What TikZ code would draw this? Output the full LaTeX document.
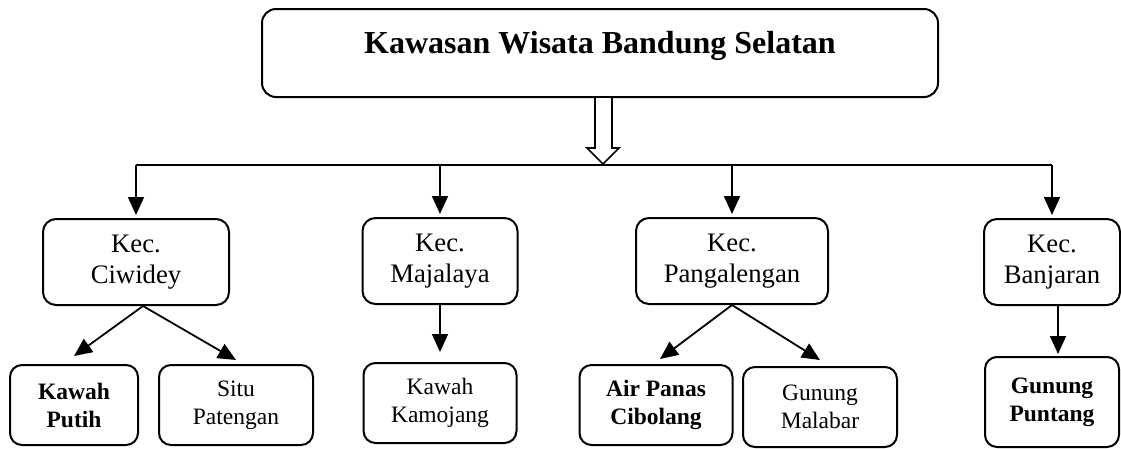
\documentclass[tikz,border=0pt]{standalone}
\usepackage{fontspec}
\setmainfont{Liberation Serif}
\usetikzlibrary{arrows.meta}

\begin{document}
\begin{tikzpicture}[x=1pt, y=-1pt,
    area/.style={draw=black, line width=2pt, rounded corners=14pt, fill=white,
        minimum width=676pt, minimum height=88pt, inner sep=0pt,
        font=\fontsize{32}{36}\selectfont\bfseries, text height=22pt, text depth=21pt},
    kec/.style={draw=black, line width=2pt, rounded corners=13pt, fill=white,
        minimum height=86pt, inner sep=0pt, align=center,
        font=\fontsize{26.7}{31}\selectfont},
    spot/.style={draw=black, line width=2pt, rounded corners=12pt, fill=white,
        minimum height=80pt, inner sep=0pt, align=center,
        font=\fontsize{23.5}{28}\selectfont},
    spotbold/.style={spot, font=\fontsize{23.5}{28}\selectfont\bfseries},
    link/.style={line width=1.8pt, -{Triangle[width=16pt,length=18pt]}},
    bus/.style={line width=1.8pt}
]
    \useasboundingbox (0,0) rectangle (1121,448);
    \node[area] (kawasan) at (600,53) {Kawasan Wisata Bandung Selatan};
    \coordinate (fork) at (603,165);

    \node[kec, minimum width=186pt] (ciwidey) at (136,262) {Kec.\\Ciwidey};
    \node[kec, minimum width=155pt] (majalaya) at (440,261) {Kec.\\Majalaya};
    \node[kec, minimum width=192pt] (pangalengan) at (732,261) {Kec.\\Pangalengan};
    \node[kec, minimum width=136pt] (banjaran) at (1052,262) {Kec.\\Banjaran};

    \node[spotbold, minimum width=128pt] (putih) at (74,405) {Kawah\\Putih};
    \node[spot, minimum width=154pt] (situ) at (236,405) {Situ\\Patengan};
    \node[spot, minimum width=153pt] (kamojang) at (440,403) {Kawah\\Kamojang};
    \node[spotbold, minimum width=153pt] (cibolang) at (656,405) {Air Panas\\Cibolang};
    \node[spot, minimum width=154pt] (malabar) at (820,407) {Gunung\\Malabar};
    \node[spotbold, minimum width=134pt, minimum height=90pt] (puntang) at (1052,402) {Gunung\\Puntang};

    \draw[line width=1.6pt, fill=white] ([xshift=-5pt]kawasan.south) -- ++(0,50) -- ++(-8,0)
        -- ++(16,16) -- ++(16,-16) -- ++(-7,0) -- ++(0,-50);
    \draw[bus] (ciwidey.north |- fork) -- (banjaran.north |- fork);
    \foreach \k in {ciwidey, majalaya, pangalengan, banjaran}
        \draw[link, shorten >=3pt] (\k.north |- fork) -- (\k.north);

    \draw[link] ([xshift=7pt]ciwidey.south) -- ([yshift=8pt]putih.north);
    \draw[link] ([xshift=7pt]ciwidey.south) -- ([yshift=4pt]situ.north);
    \draw[link] (majalaya.south) -- ([yshift=10pt]kamojang.north);
    \draw[link] (pangalengan.south) -- ([xshift=4pt, yshift=5pt]cibolang.north);
    \draw[link] (pangalengan.south) -- ([yshift=6pt]malabar.north);
    \draw[link] ([xshift=6pt]banjaran.south) -- ([xshift=6pt, yshift=2pt]puntang.north);
\end{tikzpicture}
\end{document}
